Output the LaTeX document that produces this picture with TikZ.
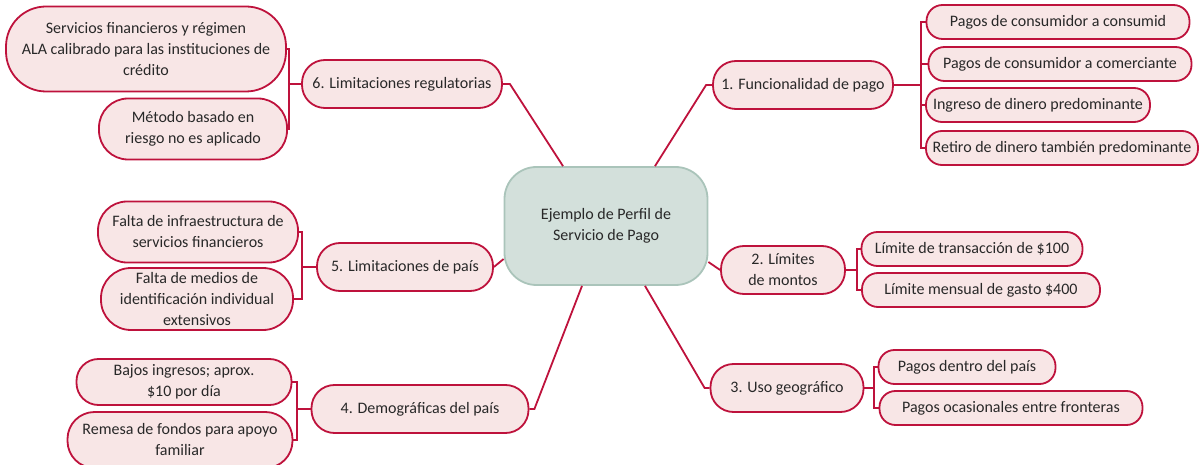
\documentclass[tikz,border=0pt]{standalone}
\usepackage{fontspec}
\setmainfont{Carlito}
\usetikzlibrary{calc}

\definecolor{linkred}{RGB}{190,18,60}
\definecolor{pinkfill}{RGB}{248,230,230}
\definecolor{hubfill}{RGB}{211,224,219}
\definecolor{hubline}{RGB}{170,196,186}
\definecolor{textgray}{RGB}{40,40,40}

\begin{document}
\begin{tikzpicture}[
    x=1pt, y=-1pt,
    every node/.style={font=\fontsize{16}{21}\selectfont, text=textgray, align=center, inner sep=0pt},
    hub/.style={rectangle, draw=hubline, fill=hubfill, line width=1.8pt, rounded corners=32pt, minimum width=203pt, minimum height=118pt},
    topic/.style={rectangle, draw=linkred, fill=pinkfill, line width=1.8pt, minimum height=48pt, rounded corners=23pt},
    leaf/.style={rectangle, draw=linkred, fill=pinkfill, line width=1.8pt, minimum height=34pt, rounded corners=16pt},
    link/.style={draw=linkred, line width=1.8pt},
]
\useasboundingbox (0,0) rectangle (1200,465);

% centre
\node[hub] (hub) at (606,226) {Ejemplo de Perfil de\\Servicio de Pago};

% main topics
\node[topic, minimum width=180pt] (fun) at (803,85)  {1. Funcionalidad de pago};
\node[topic, minimum width=124pt] (lim) at (783,270) {2. Límites\\de montos};
\node[topic, minimum width=153pt] (geo) at (787,388) {3. Uso geográfico};
\node[topic, minimum width=217pt] (dem) at (420,409) {4. Demográficas del país};
\node[topic, minimum width=176pt] (pai) at (405,267) {5. Limitaciones de país};
\node[topic, minimum width=200pt] (reg) at (402,84)  {6. Limitaciones regulatorias};

% leaves
\node[leaf, minimum width=263pt] (fun1) at (1058,22)  {Pagos de consumidor a consumid};
\node[leaf, minimum width=263pt] (fun2) at (1060,64)  {Pagos de consumidor a comerciante};
\node[leaf, minimum width=224pt] (fun3) at (1038,105) {Ingreso de dinero predominante};
\node[leaf, minimum width=272pt] (fun4) at (1062,148) {Retiro de dinero también predominante};

\node[leaf, minimum width=221pt] (lim1) at (972,249) {Límite de transacción de \$100};
\node[leaf, minimum width=238pt] (lim2) at (981,290) {Límite mensual de gasto \$400};

\node[leaf, minimum width=177pt] (geo1) at (967,367)  {Pagos dentro del país};
\node[leaf, minimum width=263pt] (geo2) at (1011,408) {Pagos ocasionales entre fronteras};

\node[leaf, minimum width=215pt, minimum height=46pt, rounded corners=22pt] (dem1) at (184,382) {Bajos ingresos; aprox.\\\$10 por día};
\node[leaf, minimum width=225pt, minimum height=56pt, rounded corners=27pt] (dem2) at (180,440) {Remesa de fondos para apoyo\\familiar};

\node[leaf, minimum width=200pt, minimum height=61pt, rounded corners=29pt] (pai1) at (198,232) {Falta de infraestructura de\\servicios financieros};
\node[leaf, minimum width=192pt, minimum height=62pt, rounded corners=30pt] (pai2) at (197,299) {Falta de medios de\\identificación individual\\extensivos};

\node[leaf, minimum width=280pt, minimum height=85pt, rounded corners=40pt] (reg1) at (146,49) {Servicios financieros y régimen\\ALA calibrado para las instituciones de\\crédito};
\node[leaf, minimum width=188pt, minimum height=61pt, rounded corners=29pt] (reg2) at (193,129) {Método basado en\\riesgo no es aplicado};

% bracket joints
\coordinate (jfun) at (921,85);
\coordinate (jlim) at (857,270);
\coordinate (jgeo) at (874,388);
\coordinate (jdem) at (297,409);
\coordinate (jpai) at (302,267);
\coordinate (jreg) at (289,84);

% centre to topics
\draw[link] (reg.east) -- ++(7,0) -- ($(hub.north)+(-43,0)$);
\draw[link] (fun.west) -- ++(-6,0) -- ($(hub.north)+(49,0)$);
\draw[link] (lim.west) -- ($(hub.east)+(0,36)$);
\draw[link] (geo.west) -- ++(-5,0) -- ($(hub.south)+(39,0)$);
\draw[link] (dem.east) -- ++(5,0) -- ($(hub.south)+(-24,0)$);
\draw[link] (pai.east) -- ($(hub.west)+(0,33)$);

% topics to leaves
\draw[link] (fun.east) -- (jfun);
\foreach \n in {fun1,fun2,fun3,fun4} \draw[link] (jfun) |- (\n.west);
\draw[link] (lim.east) -- (jlim);
\foreach \n in {lim1,lim2} \draw[link] (jlim) |- (\n.west);
\draw[link] (geo.east) -- (jgeo);
\foreach \n in {geo1,geo2} \draw[link] (jgeo) |- (\n.west);
\draw[link] (dem.west) -- (jdem);
\foreach \n in {dem1,dem2} \draw[link] (jdem) |- (\n.east);
\draw[link] (pai.west) -- (jpai);
\foreach \n in {pai1,pai2} \draw[link] (jpai) |- (\n.east);
\draw[link] (reg.west) -- (jreg);
\foreach \n in {reg1,reg2} \draw[link] (jreg) |- (\n.east);

\end{tikzpicture}
\end{document}
